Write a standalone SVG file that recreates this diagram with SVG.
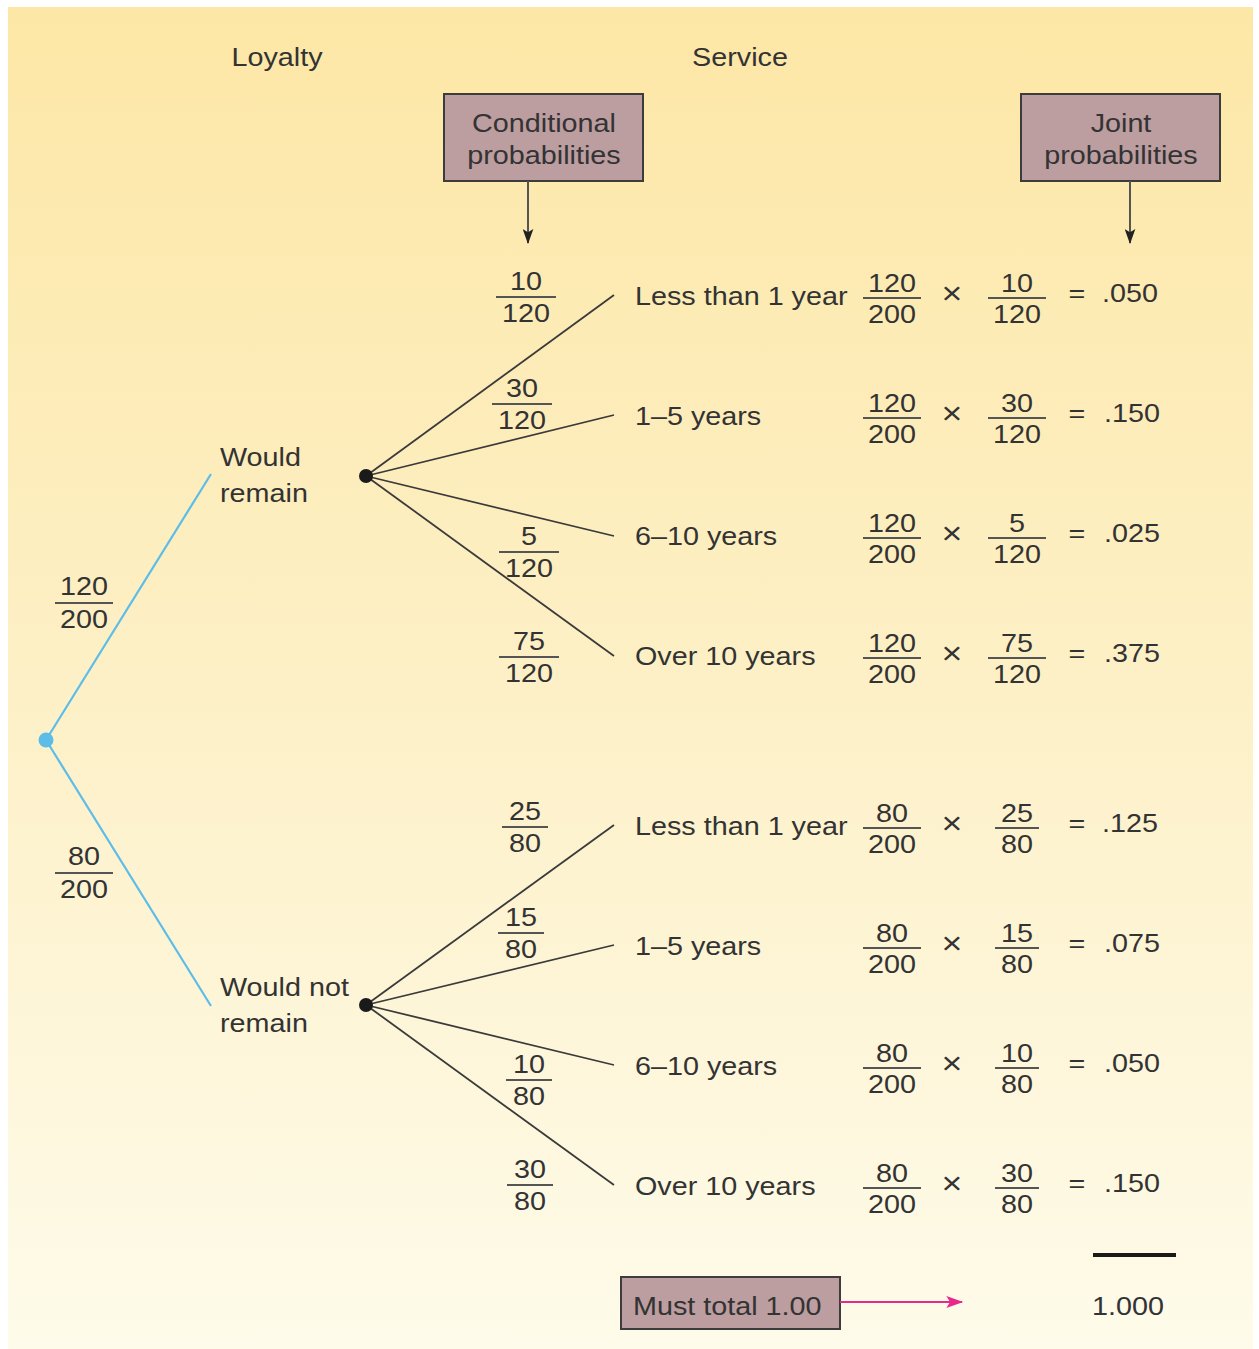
<svg xmlns="http://www.w3.org/2000/svg" width="1259" height="1349" viewBox="0 0 1259 1349">
<defs>
<linearGradient id="bg" x1="0" y1="0" x2="0" y2="1">
<stop offset="0" stop-color="#FDE7A6"/>
<stop offset="0.5" stop-color="#FDF0C6"/>
<stop offset="1" stop-color="#FEFBEA"/>
</linearGradient>
<marker id="ahDark" viewBox="0 0 14 10" refX="13" refY="5" markerWidth="15" markerHeight="11" markerUnits="userSpaceOnUse" orient="auto">
<path d="M0,0 L14,5 L0,10 L3,5 z" fill="#222"/>
</marker>
<marker id="ahPink" viewBox="0 0 14 10" refX="13" refY="5" markerWidth="18" markerHeight="12" markerUnits="userSpaceOnUse" orient="auto">
<path d="M0,0 L14,5 L0,10 L3,5 z" fill="#E8288A"/>
</marker>
</defs>
<style>
text{font-family:"Liberation Sans",Arial,Helvetica,sans-serif;font-size:25px;fill:#333}
.c{text-anchor:middle}
.x{font-size:31px}
.bar{stroke:#555;stroke-width:2}
.box{fill:#BC9DA0;stroke:#3c3c3c;stroke-width:2}
.br{stroke:#3a3a3a;stroke-width:1.8;fill:none}
.blue{stroke:#5CBDE9;stroke-width:2.2;fill:none}
.arr{stroke:#555;stroke-width:2;fill:none}
</style>
<rect x="0" y="0" width="1259" height="1349" fill="#fff"/>
<rect x="8" y="7" width="1245" height="1342" fill="url(#bg)"/>

<g id="headers">
<text class="c" transform="translate(277,66) scale(1.15,1)">Loyalty</text>
<text class="c" transform="translate(740,66) scale(1.15,1)">Service</text>
</g>

<g id="cond-box">
<rect class="box" x="444" y="94" width="199" height="87"/>
<text class="c" transform="translate(544,132) scale(1.15,1)">Conditional</text>
<text class="c" transform="translate(544,164) scale(1.15,1)">probabilities</text>
</g>
<g id="joint-box">
<rect class="box" x="1021" y="94" width="199" height="87"/>
<text class="c" transform="translate(1121,132) scale(1.15,1)">Joint</text>
<text class="c" transform="translate(1121,164) scale(1.15,1)">probabilities</text>
</g>
<g id="total-box">
<rect class="box" x="621" y="1277" width="219" height="52"/>
<text transform="translate(633,1315) scale(1.15,1)">Must total 1.00</text>
</g>

<g id="connectors">
<line class="arr" x1="528" y1="181" x2="528" y2="243" marker-end="url(#ahDark)"/>
<line class="arr" x1="1130" y1="181" x2="1130" y2="243" marker-end="url(#ahDark)"/>
<line x1="840" y1="1302" x2="962" y2="1302" stroke="#E8288A" stroke-width="2" marker-end="url(#ahPink)"/>
<line class="blue" x1="46" y1="740" x2="211" y2="474"/>
<line class="blue" x1="46" y1="740" x2="211" y2="1006"/>
<line class="br" x1="366" y1="476" x2="614" y2="295"/>
<line class="br" x1="366" y1="476" x2="614" y2="415"/>
<line class="br" x1="366" y1="476" x2="614" y2="536"/>
<line class="br" x1="366" y1="476" x2="614" y2="656"/>
<line class="br" x1="366" y1="1005" x2="614" y2="825"/>
<line class="br" x1="366" y1="1005" x2="614" y2="945"/>
<line class="br" x1="366" y1="1005" x2="614" y2="1065"/>
<line class="br" x1="366" y1="1005" x2="614" y2="1185"/>
</g>

<g id="root"><circle cx="46" cy="740" r="7.5" fill="#5CBDE9"/></g>
<g id="node-remain">
<circle cx="366" cy="476" r="7" fill="#1a1a1a"/>
<text transform="translate(220,466) scale(1.15,1)">Would</text>
<text transform="translate(220,502) scale(1.15,1)">remain</text>
</g>
<g id="node-notremain">
<circle cx="366" cy="1005" r="7" fill="#1a1a1a"/>
<text transform="translate(220,996) scale(1.15,1)">Would not</text>
<text transform="translate(220,1032) scale(1.15,1)">remain</text>
</g>

<g id="loyalty-probs">
<g transform="translate(84,595)"><text class="c" transform="scale(1.15,1)">120</text><line class="bar" x1="-29" y1="8" x2="29" y2="8"/><text class="c" transform="translate(0,33) scale(1.15,1)">200</text></g>
<g transform="translate(84,865)"><text class="c" transform="scale(1.15,1)">80</text><line class="bar" x1="-29" y1="8" x2="29" y2="8"/><text class="c" transform="translate(0,33) scale(1.15,1)">200</text></g>
</g>

<g id="conditional">
<g transform="translate(526,290)"><text class="c" transform="scale(1.15,1)">10</text><line class="bar" x1="-30" y1="7" x2="30" y2="7"/><text class="c" transform="translate(0,32) scale(1.15,1)">120</text></g>
<g transform="translate(522,397)"><text class="c" transform="scale(1.15,1)">30</text><line class="bar" x1="-30" y1="7" x2="30" y2="7"/><text class="c" transform="translate(0,32) scale(1.15,1)">120</text></g>
<g transform="translate(529,545)"><text class="c" transform="scale(1.15,1)">5</text><line class="bar" x1="-30" y1="7" x2="30" y2="7"/><text class="c" transform="translate(0,32) scale(1.15,1)">120</text></g>
<g transform="translate(529,650)"><text class="c" transform="scale(1.15,1)">75</text><line class="bar" x1="-30" y1="7" x2="30" y2="7"/><text class="c" transform="translate(0,32) scale(1.15,1)">120</text></g>
<g transform="translate(525,820)"><text class="c" transform="scale(1.15,1)">25</text><line class="bar" x1="-23" y1="7" x2="23" y2="7"/><text class="c" transform="translate(0,32) scale(1.15,1)">80</text></g>
<g transform="translate(521,926)"><text class="c" transform="scale(1.15,1)">15</text><line class="bar" x1="-23" y1="7" x2="23" y2="7"/><text class="c" transform="translate(0,32) scale(1.15,1)">80</text></g>
<g transform="translate(529,1073)"><text class="c" transform="scale(1.15,1)">10</text><line class="bar" x1="-23" y1="7" x2="23" y2="7"/><text class="c" transform="translate(0,32) scale(1.15,1)">80</text></g>
<g transform="translate(530,1178)"><text class="c" transform="scale(1.15,1)">30</text><line class="bar" x1="-23" y1="7" x2="23" y2="7"/><text class="c" transform="translate(0,32) scale(1.15,1)">80</text></g>
</g>

<g id="service">
<text transform="translate(635,305) scale(1.15,1)">Less than 1 year</text>
<text transform="translate(635,425) scale(1.15,1)">1–5 years</text>
<text transform="translate(635,545) scale(1.15,1)">6–10 years</text>
<text transform="translate(635,665) scale(1.15,1)">Over 10 years</text>
<text transform="translate(635,835) scale(1.15,1)">Less than 1 year</text>
<text transform="translate(635,955) scale(1.15,1)">1–5 years</text>
<text transform="translate(635,1075) scale(1.15,1)">6–10 years</text>
<text transform="translate(635,1195) scale(1.15,1)">Over 10 years</text>
</g>

<g id="joint">
<g transform="translate(0,292)">
<g transform="translate(892,0)"><text class="c" transform="scale(1.15,1)">120</text><line class="bar" x1="-29" y1="6" x2="29" y2="6"/><text class="c" transform="translate(0,31) scale(1.15,1)">200</text></g>
<text class="c x" transform="translate(952,12) scale(1.15,1)">×</text>
<g transform="translate(1017,0)"><text class="c" transform="scale(1.15,1)">10</text><line class="bar" x1="-29" y1="6" x2="29" y2="6"/><text class="c" transform="translate(0,31) scale(1.15,1)">120</text></g>
<text class="c" transform="translate(1077,10) scale(1.15,1)">=</text>
<text transform="translate(1102,10) scale(1.15,1)">.050</text>
</g>
<g transform="translate(0,412)">
<g transform="translate(892,0)"><text class="c" transform="scale(1.15,1)">120</text><line class="bar" x1="-29" y1="6" x2="29" y2="6"/><text class="c" transform="translate(0,31) scale(1.15,1)">200</text></g>
<text class="c x" transform="translate(952,12) scale(1.15,1)">×</text>
<g transform="translate(1017,0)"><text class="c" transform="scale(1.15,1)">30</text><line class="bar" x1="-29" y1="6" x2="29" y2="6"/><text class="c" transform="translate(0,31) scale(1.15,1)">120</text></g>
<text class="c" transform="translate(1077,10) scale(1.15,1)">=</text>
<text transform="translate(1104,10) scale(1.15,1)">.150</text>
</g>
<g transform="translate(0,532)">
<g transform="translate(892,0)"><text class="c" transform="scale(1.15,1)">120</text><line class="bar" x1="-29" y1="6" x2="29" y2="6"/><text class="c" transform="translate(0,31) scale(1.15,1)">200</text></g>
<text class="c x" transform="translate(952,12) scale(1.15,1)">×</text>
<g transform="translate(1017,0)"><text class="c" transform="scale(1.15,1)">5</text><line class="bar" x1="-29" y1="6" x2="29" y2="6"/><text class="c" transform="translate(0,31) scale(1.15,1)">120</text></g>
<text class="c" transform="translate(1077,10) scale(1.15,1)">=</text>
<text transform="translate(1104,10) scale(1.15,1)">.025</text>
</g>
<g transform="translate(0,652)">
<g transform="translate(892,0)"><text class="c" transform="scale(1.15,1)">120</text><line class="bar" x1="-29" y1="6" x2="29" y2="6"/><text class="c" transform="translate(0,31) scale(1.15,1)">200</text></g>
<text class="c x" transform="translate(952,12) scale(1.15,1)">×</text>
<g transform="translate(1017,0)"><text class="c" transform="scale(1.15,1)">75</text><line class="bar" x1="-29" y1="6" x2="29" y2="6"/><text class="c" transform="translate(0,31) scale(1.15,1)">120</text></g>
<text class="c" transform="translate(1077,10) scale(1.15,1)">=</text>
<text transform="translate(1104,10) scale(1.15,1)">.375</text>
</g>
<g transform="translate(0,822)">
<g transform="translate(892,0)"><text class="c" transform="scale(1.15,1)">80</text><line class="bar" x1="-29" y1="6" x2="29" y2="6"/><text class="c" transform="translate(0,31) scale(1.15,1)">200</text></g>
<text class="c x" transform="translate(952,12) scale(1.15,1)">×</text>
<g transform="translate(1017,0)"><text class="c" transform="scale(1.15,1)">25</text><line class="bar" x1="-22" y1="6" x2="22" y2="6"/><text class="c" transform="translate(0,31) scale(1.15,1)">80</text></g>
<text class="c" transform="translate(1077,10) scale(1.15,1)">=</text>
<text transform="translate(1102,10) scale(1.15,1)">.125</text>
</g>
<g transform="translate(0,942)">
<g transform="translate(892,0)"><text class="c" transform="scale(1.15,1)">80</text><line class="bar" x1="-29" y1="6" x2="29" y2="6"/><text class="c" transform="translate(0,31) scale(1.15,1)">200</text></g>
<text class="c x" transform="translate(952,12) scale(1.15,1)">×</text>
<g transform="translate(1017,0)"><text class="c" transform="scale(1.15,1)">15</text><line class="bar" x1="-22" y1="6" x2="22" y2="6"/><text class="c" transform="translate(0,31) scale(1.15,1)">80</text></g>
<text class="c" transform="translate(1077,10) scale(1.15,1)">=</text>
<text transform="translate(1104,10) scale(1.15,1)">.075</text>
</g>
<g transform="translate(0,1062)">
<g transform="translate(892,0)"><text class="c" transform="scale(1.15,1)">80</text><line class="bar" x1="-29" y1="6" x2="29" y2="6"/><text class="c" transform="translate(0,31) scale(1.15,1)">200</text></g>
<text class="c x" transform="translate(952,12) scale(1.15,1)">×</text>
<g transform="translate(1017,0)"><text class="c" transform="scale(1.15,1)">10</text><line class="bar" x1="-22" y1="6" x2="22" y2="6"/><text class="c" transform="translate(0,31) scale(1.15,1)">80</text></g>
<text class="c" transform="translate(1077,10) scale(1.15,1)">=</text>
<text transform="translate(1104,10) scale(1.15,1)">.050</text>
</g>
<g transform="translate(0,1182)">
<g transform="translate(892,0)"><text class="c" transform="scale(1.15,1)">80</text><line class="bar" x1="-29" y1="6" x2="29" y2="6"/><text class="c" transform="translate(0,31) scale(1.15,1)">200</text></g>
<text class="c x" transform="translate(952,12) scale(1.15,1)">×</text>
<g transform="translate(1017,0)"><text class="c" transform="scale(1.15,1)">30</text><line class="bar" x1="-22" y1="6" x2="22" y2="6"/><text class="c" transform="translate(0,31) scale(1.15,1)">80</text></g>
<text class="c" transform="translate(1077,10) scale(1.15,1)">=</text>
<text transform="translate(1104,10) scale(1.15,1)">.150</text>
</g>
</g>

<g id="total">
<line x1="1093" y1="1255" x2="1176" y2="1255" stroke="#1a1a1a" stroke-width="4"/>
<text transform="translate(1092,1315) scale(1.15,1)">1.000</text>
</g>
</svg>
